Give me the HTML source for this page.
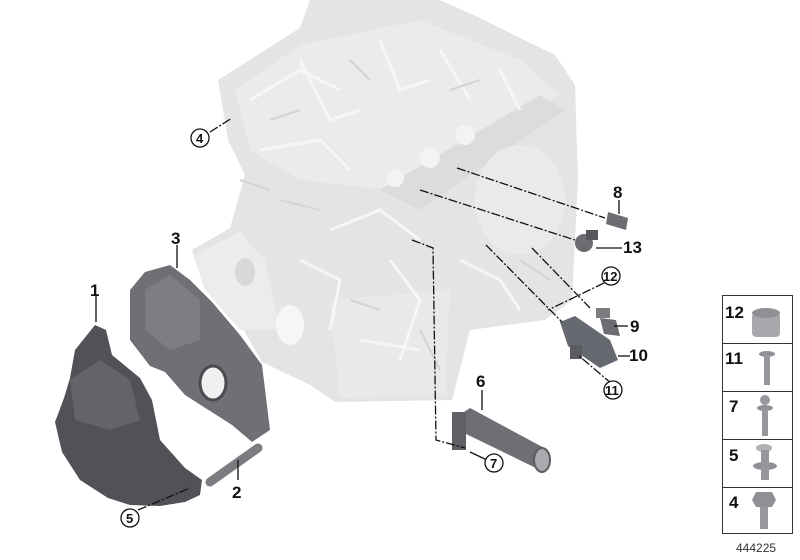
<!DOCTYPE html>
<html><head><style>
html,body{margin:0;padding:0;background:#fff;}
svg{display:block;}
.b{font-family:"Liberation Sans",sans-serif;font-weight:bold;font-size:17px;fill:#111;}
.c{font-family:"Liberation Sans",sans-serif;font-weight:bold;font-size:13px;fill:#111;}
.d{stroke:#111;stroke-width:1.3;fill:none;stroke-dasharray:9,2,2,2;}
.l{stroke:#111;stroke-width:1.3;fill:none;}
.ci{fill:#fff;stroke:#111;stroke-width:1.3;}
.e{stroke:#f6f6f6;stroke-width:3;fill:none;}
.f{stroke:#d4d4d4;stroke-width:2;fill:none;}
</style></head><body>
<svg width="800" height="560" viewBox="0 0 800 560" xmlns="http://www.w3.org/2000/svg">
<!-- engine -->
<polygon points="218,80 300,28 310,0 440,0 480,18 555,55 575,85 578,180 572,300 545,320 470,330 452,400 335,402 310,385 262,362 238,320 205,290 192,250 230,228 245,175 228,140" fill="#e4e4e4"/>
<polygon points="235,90 300,45 420,20 520,60 560,95 450,150 390,190 300,180 250,150" fill="#ebebeb"/>
<polygon points="380,190 540,95 565,110 420,210" fill="#dcdcdc"/>
<circle cx="395" cy="178" r="9" fill="#f3f3f3"/><circle cx="430" cy="158" r="10" fill="#f3f3f3"/><circle cx="465" cy="135" r="10" fill="#f3f3f3"/>
<ellipse cx="520" cy="200" rx="45" ry="55" fill="#eaeaea"/>
<polygon points="195,255 240,232 265,260 280,330 240,330 205,290" fill="#ececec"/>
<ellipse cx="290" cy="325" rx="14" ry="20" fill="#f6f6f6"/>
<ellipse cx="245" cy="272" rx="10" ry="14" fill="#d8d8d8"/>
<polygon points="330,300 450,290 445,395 340,398" fill="#e9e9e9"/>
<path class="e" d="M250,100 L300,70 L340,90 M300,60 L330,120 L360,110 M380,40 L400,90 L430,80 M440,50 L470,100 M500,70 L520,110 M260,150 L320,140 L350,170 M330,230 L380,210 L420,240 M300,260 L340,280 L330,330 M390,260 L420,300 L400,360 M460,260 L500,280 L520,310 M360,340 L420,350"/>
<path class="f" d="M270,120 L300,110 M350,60 L370,80 M450,90 L480,80 M280,200 L320,210 M350,300 L380,310 M420,330 L440,370 M520,260 L550,280 M240,180 L270,190"/>
<!-- part 3 -->
<polygon points="130,290 145,272 170,265 190,280 212,302 240,335 262,365 270,430 252,442 232,425 185,395 165,372 150,366 130,340" fill="#6e7076"/>
<polygon points="145,290 170,275 200,300 200,340 170,350 145,330" fill="#7c7e84"/>
<ellipse cx="213" cy="383" rx="13" ry="17" fill="#f0f0f0" stroke="#4a4b50" stroke-width="3"/>
<!-- part 1 -->
<polygon points="95,325 106,330 112,355 140,378 152,400 160,440 185,468 202,480 200,495 185,502 160,506 130,505 108,498 80,480 62,452 55,422 64,398 70,378 75,350" fill="#505258"/>
<polygon points="70,380 100,360 130,380 140,420 110,430 75,420" fill="#62646a"/>
<!-- part 2 -->
<line x1="210" y1="482" x2="258" y2="448" stroke="#7a7c80" stroke-width="9" stroke-linecap="round"/>
<!-- part 6 -->
<polygon points="455,418 470,408 548,450 540,470 462,432" fill="#6d6f74"/>
<ellipse cx="542" cy="460" rx="8" ry="12" fill="#a8aaae" stroke="#5a5c60" stroke-width="2"/>
<rect x="452" y="412" width="14" height="38" fill="#5f6166"/>
<!-- right parts -->
<polygon points="608,212 628,218 626,230 606,224" fill="#6b6d72"/>
<ellipse cx="584" cy="243" rx="9" ry="9" fill="#6b6d72"/>
<rect x="586" y="230" width="12" height="10" fill="#56585c"/>
<rect x="596" y="308" width="14" height="10" fill="#7a7c80"/>
<polygon points="600,318 616,320 620,336 604,334" fill="#6b6d72"/>
<polygon points="560,322 575,316 610,340 618,360 600,368 568,346" fill="#676970"/>
<rect x="570" y="345" width="12" height="14" fill="#5a5c60"/>
<!-- leader lines -->
<path class="d" d="M457,168 L605,218"/>
<path class="d" d="M420,190 L575,240"/>
<path class="d" d="M532,248 L590,308"/>
<path class="d" d="M486,245 L562,322"/>
<path class="d" d="M604,283 L548,310"/>
<path class="d" d="M412,240 L433,248 L436,440 L465,448"/>
<path class="d" d="M612,384 L578,355"/>
<path class="d" d="M210,132 L232,118"/>
<path class="d" d="M138,510 L190,488"/>
<path class="l" d="M96,296 L96,322"/>
<path class="l" d="M177,245 L177,268"/>
<path class="l" d="M238,480 L238,460"/>
<path class="l" d="M482,390 L482,410"/>
<path class="l" d="M619,200 L619,214"/>
<path class="l" d="M596,248 L622,248"/>
<path class="l" d="M614,326 L628,326"/>
<path class="l" d="M618,356 L630,356"/>
<path class="l" d="M487,460 L470,452"/>
<!-- labels -->
<text class="b" x="90" y="296">1</text>
<text class="b" x="232" y="498">2</text>
<text class="b" x="171" y="244">3</text>
<text class="b" x="476" y="387">6</text>
<text class="b" x="613" y="198">8</text>
<text class="b" x="623" y="253">13</text>
<text class="b" x="630" y="332">9</text>
<text class="b" x="629" y="361">10</text>
<circle class="ci" cx="200" cy="138" r="9"/><text class="c" x="196" y="143">4</text>
<circle class="ci" cx="130" cy="518" r="9"/><text class="c" x="126" y="523">5</text>
<circle class="ci" cx="494" cy="463" r="9"/><text class="c" x="490" y="468">7</text>
<circle class="ci" cx="613" cy="390" r="9"/><text class="c" x="605" y="395">11</text>
<circle class="ci" cx="611" cy="276" r="9"/><text class="c" x="603" y="281">12</text>
<!-- legend -->
<rect x="722.5" y="295.5" width="70" height="238" fill="#fff" stroke="#333" stroke-width="1"/>
<line x1="722" y1="343.5" x2="792" y2="343.5" stroke="#333"/>
<line x1="722" y1="391.5" x2="792" y2="391.5" stroke="#333"/>
<line x1="722" y1="439.5" x2="792" y2="439.5" stroke="#333"/>
<line x1="722" y1="487.5" x2="792" y2="487.5" stroke="#333"/>
<text class="b" x="725" y="318">12</text>
<text class="b" x="725" y="364">11</text>
<text class="b" x="729" y="412">7</text>
<text class="b" x="729" y="461">5</text>
<text class="b" x="729" y="508">4</text>
<rect x="752" y="313" width="28" height="24" rx="4" fill="#a8a9ad"/>
<ellipse cx="766" cy="313" rx="14" ry="5" fill="#8f9095"/>
<ellipse cx="767" cy="354" rx="8" ry="3" fill="#8f9095"/>
<rect x="764" y="355" width="6" height="30" fill="#96979c"/>
<circle cx="765" cy="400" r="5" fill="#96979c"/>
<ellipse cx="765" cy="408" rx="8" ry="3" fill="#8f9095"/>
<rect x="762" y="408" width="6" height="28" fill="#96979c"/>
<ellipse cx="764" cy="448" rx="8" ry="4" fill="#b0b1b5"/>
<ellipse cx="765" cy="466" rx="12" ry="4" fill="#8f9095"/>
<rect x="761" y="450" width="8" height="30" fill="#96979c"/>
<polygon points="756,492 772,492 776,500 772,507 756,507 752,500" fill="#8f9095"/>
<rect x="760" y="507" width="8" height="22" fill="#96979c"/>
<text x="736" y="552" font-family="Liberation Sans,sans-serif" font-size="12" fill="#333">444225</text>
</svg>
</body></html>
